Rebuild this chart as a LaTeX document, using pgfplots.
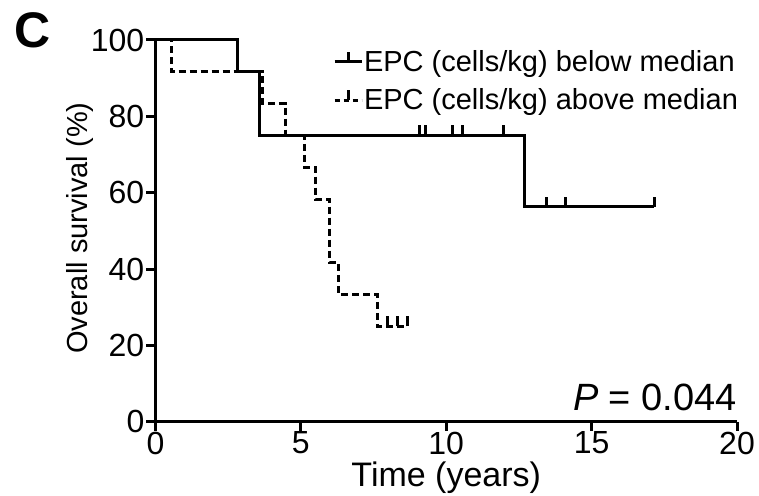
\documentclass[border=0pt]{standalone}
\usepackage{fontspec}
\setmainfont{Liberation Sans}
\usepackage{pgfplots}
\pgfplotsset{compat=1.18}
\pgfdeclareplotmark{cens}{\pgfpathmoveto{\pgfpoint{0pt}{0pt}}\pgfpathlineto{\pgfpoint{0pt}{10pt}}\pgfusepathqstroke}
\begin{document}
\begin{tikzpicture}
\useasboundingbox (-155.5pt,-73.3pt) rectangle (603.5pt,421.7pt);
\begin{axis}[
  scale only axis, width=581.5pt, height=381.7pt,
  xmin=0, xmax=20, ymin=0, ymax=100,
  axis x line*=bottom, axis y line*=left,
  axis line style={-, line width=3.5pt},
  tick style={line width=3pt, black},
  tick align=outside, major tick length=9pt,
  xtick={0,5,10,15,20}, ytick={0,20,40,60,80,100},
  /pgf/number format/assume math mode=true,
  ticklabel style={font=\fontsize{32}{32}\selectfont, inner sep=0pt},
  yticklabel style={xshift=-2pt},
  xticklabel style={font=\fontsize{32}{32}\selectfont, yshift=-1pt},
  xlabel={Time (years)},
  ylabel={Overall survival (\%)},
  xlabel style={font=\fontsize{34}{34}\selectfont, at={(axis description cs:0.5,-0.147)}, anchor=center, inner sep=0pt},
  ylabel style={font=\fontsize{29}{29}\selectfont, at={(axis description cs:-0.13,0.507)}, anchor=center, rotate=0, inner sep=0pt},
  clip=false,
  legend image code/.code={\draw[mark repeat=2,mark phase=2,#1] plot coordinates {(0pt,0pt) (13.5pt,0pt) (27pt,0pt)};},
  legend style={draw=none, fill=none, at={(axis cs:6.1,97.6)}, anchor=north west, inner sep=0pt,
    font=\fontsize{29}{29}\selectfont, row sep=14pt, nodes={inner sep=1pt}},
  legend cell align=left,
]
\addlegendimage{black, line width=3pt, mark=cens, mark options={solid}}
\addlegendentry{EPC (cells/kg) below median}
\addlegendimage{black, line width=3pt, dash pattern=on 5pt off 4pt, mark=cens, mark options={solid}}
\addlegendentry{EPC (cells/kg) above median}
% below median
\addplot[const plot, black, line width=3pt, forget plot] coordinates {
 (0,100) (2.83,91.67) (3.59,75) (12.68,56.25) (17.16,56.25)};
\addplot[only marks, mark=cens, black, line width=3pt, forget plot] coordinates {
 (9.08,75) (9.28,75) (10.23,75) (10.55,75) (11.98,75)
 (13.45,56.25) (14.10,56.25) (17.16,56.25)};
% above median
\addplot[const plot, black, line width=3pt, dash pattern=on 7pt off 4pt, forget plot] coordinates {
 (0,100) (0.54,91.67) (3.68,83.33) (4.48,75) (5.13,66.67) (5.52,58.33) (6.00,41.67) (6.30,33.33) (7.64,25) (8.65,25)};
\addplot[only marks, mark=cens, black, line width=3pt, forget plot] coordinates {
 (7.98,25) (8.31,25) (8.65,25)};
\node[anchor=base east, font=\fontsize{38}{38}\selectfont, inner sep=0pt] at (axis cs:20,3.0) {\textit{P} = 0.044};
\node[anchor=center, font=\fontsize{50}{50}\selectfont\bfseries, inner sep=0pt] at (axis description cs:-0.212,1.026) {C};
\end{axis}
\end{tikzpicture}
\end{document}
